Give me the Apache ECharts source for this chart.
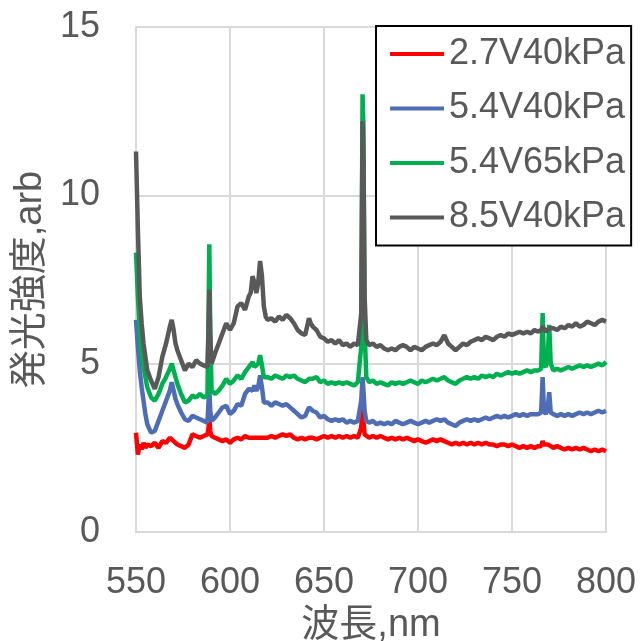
<!DOCTYPE html>
<html>
<head>
<meta charset="utf-8">
<script src="https://cdn.jsdelivr.net/npm/echarts@6/dist/echarts.min.js"></script>
<style>
  html, body { margin: 0; padding: 0; background: #fff; }
  #spectrumChart { width: 642px; height: 641px; }
</style>
</head>
<body>
<div id="spectrumChart"></div>
<script>
// 波長 (nm)
const wavelengths = [
  550, 551, 552, 553, 554, 555, 556, 558, 560, 562, 564, 566, 568, 569, 570, 571, 572, 574, 576, 578,
  580, 582, 584, 586, 588, 588.6, 589, 589.5, 590.2, 592, 594, 596, 598, 600,
  602, 604, 606, 608, 610, 611, 612, 613, 614, 615, 616, 617, 618, 619, 620, 622, 624, 626, 628, 630,
  632, 634, 636, 638, 640, 642, 643, 644, 646, 648, 650, 652, 654, 656, 658, 660, 662, 664, 666, 668,
  669.8, 670.5, 671, 671.6, 672.5, 674, 676, 678,
  680, 682, 684, 686, 688, 690, 692, 694, 696, 698, 700, 702, 704, 706, 708, 710, 712, 714, 716, 718, 720,
  722, 724, 726, 728, 730, 732, 734, 736, 738, 740, 742, 744, 746, 748, 750, 752, 754, 756, 758, 760, 762, 764,
  765.5, 766.3, 767, 768, 769, 769.8, 770.6,
  772, 774, 776, 778, 780, 782, 784, 786, 788, 790, 792, 794, 796, 798, 800
];

const seriesNames = ["2.7V40kPa", "5.4V40kPa", "5.4V65kPa", "8.5V40kPa"];
const seriesColors = ["#ff0000", "#4f6db5", "#00b050", "#595959"];

const v27_40 = [
  2.95, 2.3, 2.6, 2.45, 2.65, 2.5, 2.6, 2.55, 2.65, 2.5, 2.7, 2.65, 2.8, 2.75, 2.7, 2.75, 2.6, 2.55, 2.5, 2.6,
  2.9, 2.85, 2.8, 2.85, 2.9, 3.1, 3.4, 3.0, 2.85, 2.8, 2.75, 2.7, 2.75, 2.65,
  2.75, 2.8, 2.75, 2.85, 2.8, 2.85, 2.8, 2.85, 2.8, 2.85, 2.8, 2.85, 2.8, 2.85, 2.8, 2.85, 2.8, 2.85, 2.9, 2.85,
  2.9, 2.8, 2.75, 2.8, 2.75, 2.8, 2.85, 2.8, 2.75, 2.8, 2.85, 2.8, 2.85, 2.8, 2.85, 2.8, 2.85, 2.8, 2.85, 2.8,
  3.1, 3.7, 3.3, 2.9, 2.85, 2.8, 2.85, 2.8,
  2.85, 2.8, 2.75, 2.8, 2.75, 2.8, 2.75, 2.8, 2.75, 2.7, 2.75, 2.7, 2.65, 2.7, 2.75, 2.7, 2.75, 2.7, 2.65, 2.6, 2.65,
  2.6, 2.65, 2.6, 2.65, 2.6, 2.65, 2.6, 2.65, 2.6, 2.6, 2.55, 2.6, 2.6, 2.55, 2.6, 2.55, 2.5, 2.55, 2.5, 2.55, 2.5, 2.55,
  2.55, 2.7, 2.6, 2.55, 2.6, 2.65, 2.55,
  2.5, 2.55, 2.5, 2.45, 2.5, 2.45, 2.5, 2.45, 2.5, 2.45, 2.4, 2.45, 2.4, 2.45, 2.4
];

const v54_40 = [
  6.3, 5.5, 4.8, 4.3, 3.9, 3.5, 3.2, 2.95, 3.0, 3.3, 3.6, 3.9, 4.2, 4.45, 4.2, 3.95, 3.8, 3.55, 3.35, 3.3,
  3.45, 3.4, 3.35, 3.3, 3.25, 3.9, 4.3, 3.6, 3.3, 3.4, 3.55, 3.7, 3.75, 3.5,
  3.6, 3.8, 3.75, 4.1, 4.25, 4.3, 4.2, 4.35, 4.2, 4.3, 4.65, 4.3, 3.85, 3.8, 3.85, 3.75, 3.85, 3.8, 3.75, 3.8,
  3.7, 3.6, 3.5, 3.4, 3.45, 3.7, 3.75, 3.6, 3.55, 3.4, 3.45, 3.35, 3.3, 3.35, 3.3, 3.35, 3.25, 3.3, 3.25, 3.3,
  3.9, 4.6, 4.2, 3.6, 3.3, 3.25, 3.3, 3.2,
  3.25, 3.2, 3.25, 3.2, 3.3, 3.25, 3.2, 3.25, 3.3, 3.25, 3.2, 3.25, 3.3, 3.25, 3.3, 3.35, 3.3, 3.35, 3.25, 3.2, 3.15,
  3.25, 3.3, 3.35, 3.3, 3.35, 3.3, 3.35, 3.4, 3.35, 3.4, 3.45, 3.4, 3.45, 3.4, 3.45, 3.5, 3.45, 3.5, 3.45, 3.5, 3.5, 3.5,
  3.55, 4.6, 3.6, 3.5, 3.7, 4.15, 3.55,
  3.5, 3.45, 3.5, 3.45, 3.5, 3.45, 3.5, 3.55, 3.5, 3.55, 3.5, 3.55, 3.6, 3.55, 3.6
];

const v54_65 = [
  8.3, 7.0, 6.0, 5.3, 4.9, 4.6, 4.3, 4.0, 3.9, 4.1, 4.4, 4.6, 4.85, 5.0, 4.8, 4.6, 4.4, 4.1, 3.85, 3.9,
  4.05, 4.0, 4.1, 4.0, 4.05, 6.5, 8.55, 6.0, 4.2, 4.1, 4.2, 4.35, 4.55, 4.4,
  4.5, 4.65, 4.55, 4.75, 4.9, 4.95, 5.05, 4.9, 4.95, 5.0, 5.25, 4.95, 4.6, 4.55, 4.6, 4.55, 4.65, 4.6, 4.55, 4.65,
  4.6, 4.65, 4.55, 4.5, 4.45, 4.55, 4.6, 4.55, 4.6, 4.45, 4.5, 4.4, 4.45, 4.4, 4.45, 4.4, 4.45, 4.4, 4.35, 4.45,
  5.5, 13.0, 12.0, 6.0, 4.6, 4.45, 4.5, 4.4,
  4.45, 4.4, 4.35, 4.45, 4.4, 4.45, 4.4, 4.45, 4.5, 4.45, 4.4, 4.5, 4.45, 4.5, 4.55, 4.5, 4.55, 4.6, 4.5, 4.45, 4.4,
  4.5, 4.55, 4.6, 4.55, 4.6, 4.55, 4.65, 4.6, 4.65, 4.6, 4.7, 4.65, 4.7, 4.75, 4.7, 4.75, 4.7, 4.75, 4.8, 4.75, 4.8, 4.8,
  4.85, 6.5, 5.0, 4.9, 5.2, 6.15, 5.0,
  4.8, 4.85, 4.8, 4.85, 4.9, 4.85, 4.9, 4.95, 4.9, 4.95, 4.9, 4.95, 5.0, 4.95, 5.05
];

const v85_40 = [
  11.3, 9.0, 7.0, 6.2, 5.6, 5.2, 4.8, 4.5, 4.25, 4.6, 5.2, 5.6, 6.1, 6.3, 6.0, 5.6, 5.4, 5.1, 4.8, 5.0,
  4.9, 5.1, 5.0, 4.95, 4.9, 6.0, 7.2, 5.8, 5.0, 5.3, 5.6, 5.9, 6.2, 6.0,
  6.2, 6.7, 6.8, 6.6, 7.0, 7.1, 7.6, 7.4, 7.1, 7.4, 8.05, 7.6, 6.7, 6.4, 6.3, 6.35, 6.25, 6.4, 6.3, 6.45,
  6.35, 6.2, 6.0, 5.9, 5.85, 6.35, 6.2, 6.1, 6.0, 5.8, 5.75, 5.65, 5.7, 5.6, 5.7, 5.55, 5.6, 5.5, 5.6, 5.55,
  6.5, 12.2, 11.0, 7.0, 5.7, 5.55, 5.6, 5.5,
  5.55, 5.45, 5.4, 5.45, 5.4, 5.5, 5.55, 5.5, 5.4, 5.5, 5.45, 5.4, 5.5, 5.55, 5.6, 5.55, 5.65, 5.85, 5.6, 5.5, 5.4,
  5.5, 5.6, 5.55, 5.65, 5.7, 5.75, 5.7, 5.8, 5.75, 5.7, 5.8, 5.85, 5.8, 5.9, 5.85, 5.9, 5.95, 5.9, 5.95, 5.9, 6.0, 5.95,
  6.0, 6.1, 6.05, 5.95, 6.0, 6.05, 6.0,
  6.05, 6.0, 6.1, 6.05, 6.15, 6.1, 6.2, 6.1, 6.15, 6.25, 6.2, 6.15, 6.25, 6.3, 6.25
];

const seriesValues = [v27_40, v54_40, v54_65, v85_40];

const xTicks = { min: 550, max: 800, interval: 50 };
const yTicks = { min: 0, max: 15, interval: 5 };

const textColor = "#595959";
const gridColor = "#d9d9d9";
const fontFamily = "'Liberation Sans', 'Noto Sans CJK JP', sans-serif";

let myChart = echarts.init(document.getElementById("spectrumChart"));

let options = {
  backgroundColor: "#ffffff",
  animation: false,
  grid: {
    left: 136,
    right: 36,
    top: 27,
    bottom: 109,
    containLabel: false,
    outerBoundsMode: "none",
  },
  legend: {
    orient: "vertical",
    left: 376,
    top: 26,
    padding: [10, 6, 10, 14],
    // 線だけの凡例アイコン
    icon: "rect",
    itemWidth: 54,
    itemHeight: 4,
    itemGap: 18.5,
    backgroundColor: "#ffffff",
    borderColor: "#000000",
    borderWidth: 2,
    borderRadius: 0,
    data: seriesNames,
    textStyle: {
      color: textColor,
      fontSize: 36,
      fontFamily: fontFamily,
    },
  },
  xAxis: {
    type: "value",
    min: xTicks.min,
    max: xTicks.max,
    interval: xTicks.interval,
    name: "波長,nm",
    nameLocation: "middle",
    nameGap: 75,
    nameTextStyle: {
      color: textColor,
      fontSize: 38,
      fontFamily: fontFamily,
      verticalAlign: "top",
    },
    axisLine: { show: true, lineStyle: { color: gridColor, width: 2 } },
    axisTick: { show: false },
    axisLabel: {
      color: textColor,
      fontSize: 36,
      fontFamily: fontFamily,
      margin: 33,
    },
    splitLine: { show: true, lineStyle: { color: gridColor, width: 2 } },
  },
  yAxis: {
    type: "value",
    min: yTicks.min,
    max: yTicks.max,
    interval: yTicks.interval,
    name: "発光強度,arb",
    nameLocation: "middle",
    nameGap: 86,
    nameTextStyle: {
      color: textColor,
      fontSize: 38,
      fontFamily: fontFamily,
    },
    axisLine: { show: true, lineStyle: { color: gridColor, width: 2 } },
    axisTick: { show: false },
    axisLabel: {
      color: textColor,
      fontSize: 36,
      fontFamily: fontFamily,
      margin: 36,
    },
    splitLine: { show: true, lineStyle: { color: gridColor, width: 2 } },
  },
  series: seriesNames.map((name, i) => ({
    name: name,
    type: "line",
    symbol: "none",
    showSymbol: false,
    color: seriesColors[i],
    lineStyle: { color: seriesColors[i], width: 4.5 },
    data: wavelengths.map((w, j) => [w, seriesValues[i][j]]),
  })),
};

myChart.setOption(options);
</script>
</body>
</html>
